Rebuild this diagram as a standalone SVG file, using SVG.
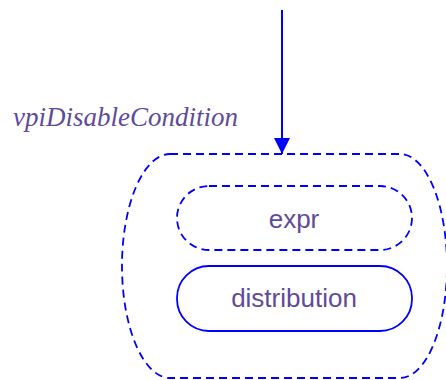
<svg xmlns="http://www.w3.org/2000/svg" width="446" height="380" viewBox="0 0 446 380">
<style>
.d{fill:none;stroke:#0000ff;stroke-width:1.8;stroke-dasharray:8,5}
.s{fill:none;stroke:#0000ff;stroke-width:1.8}
.t{font-family:"Liberation Sans",Arial,sans-serif;font-size:26px;fill:#5f4b9c;text-anchor:middle}
.l{font-family:"Liberation Serif","Times New Roman",serif;font-style:italic;font-size:27px;fill:#5f4b9c}
</style>
<defs>
<marker id="ah" markerWidth="16" markerHeight="16" refX="16" refY="8" orient="auto" markerUnits="userSpaceOnUse">
<path d="M0,0 L16,8 L0,16 Z" fill="#0000ff"/>
</marker>
</defs>
<g id="outer">
<path class="d" d="M170,154 H400 A47,112 0 0 1 447,266 A47,112 0 0 1 400,378 H170 A48,112 0 0 1 122,266 A48,112 0 0 1 170,154 Z"/>
</g>
<g id="expr">
<rect class="d" x="177" y="186" width="235" height="64" rx="32" ry="32"/>
<text class="t" x="294" y="228">expr</text>
</g>
<g id="distribution">
<rect class="s" x="177" y="266" width="235" height="65" rx="32" ry="32"/>
<text class="t" x="294" y="307">distribution</text>
</g>
<g id="connectors">
<line x1="282" y1="10" x2="282" y2="154" stroke="#0000ff" stroke-width="2" marker-end="url(#ah)"/>
<text class="l" x="13" y="126">vpiDisableCondition</text>
</g>
</svg>
